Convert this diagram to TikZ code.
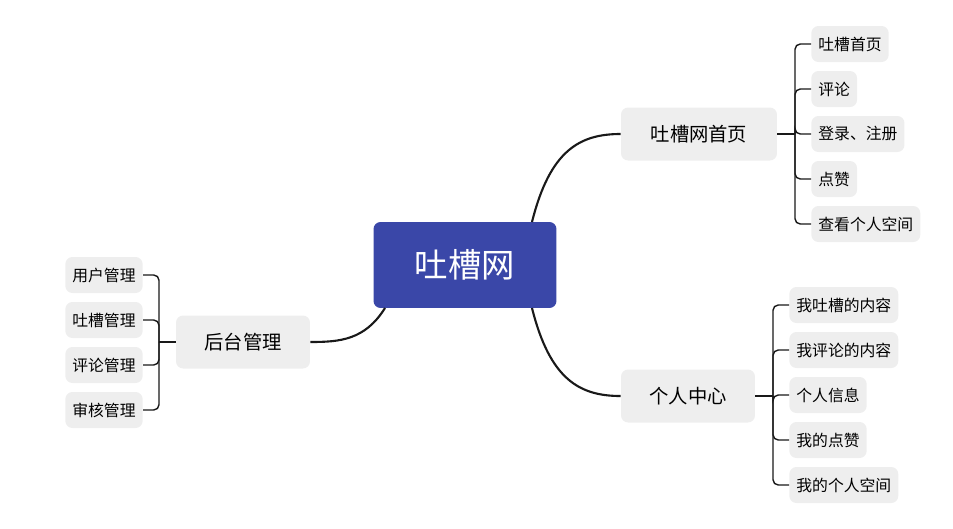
\documentclass[tikz,border=0pt]{standalone}
\usepackage{fontspec}
\setmainfont{Noto Sans CJK SC}
\usetikzlibrary{positioning}
\definecolor{rootblue}{HTML}{3A47A8}
\definecolor{boxgray}{HTML}{EEEEEE}
\tikzset{
    root/.style={
           rectangle,
           rounded corners=4pt,
           fill=rootblue,
           text=white,
           minimum width=3.66cm,
           minimum height=1.72cm,
           font=\fontsize{19}{22}\selectfont,
           },
    topic/.style={
           rectangle,
           rounded corners=4pt,
           fill=boxgray,
           minimum height=1.06cm,
           inner xsep=8pt,
           font=\fontsize{11}{13}\selectfont,
           },
    leaf/.style={
           rectangle,
           rounded corners=4pt,
           fill=boxgray,
           minimum height=0.72cm,
           inner xsep=4pt,
           font=\fontsize{9}{11}\selectfont,
           },
    link/.style={
           very thick,
           draw=black!90,
           },
    brace/.style={
           thick,
           draw=black!90,
           rounded corners=3pt,}
}
\begin{document}
\begin{tikzpicture}[x=0.02cm,y=-0.02cm]
\useasboundingbox (0,0) rectangle (953,528);
% Root
\node[root] (ROOT) at (465,265) {吐槽网};
% Topics
\node[topic, minimum width=3.12cm] (HOME) at (699,134) {吐槽网首页};
\node[topic, minimum width=2.68cm] (CENTER) at (688,396) {个人中心};
\node[topic, minimum width=2.68cm] (ADMIN) at (243,342) {后台管理};
% Links from root
\draw[link] (532,222) .. controls (550,150) and (580,134) .. (HOME.west);
\draw[link] (532,308) .. controls (550,380) and (580,396) .. (CENTER.west);
\draw[link] (385,308) .. controls (365,340) and (340,342) .. (ADMIN.east);
% Home leaves
\coordinate (HB) at (795,134);
\draw[brace] (HOME.east) -- (HB);
\foreach \t/\y [count=\i] in {吐槽首页/44, 评论/89, 登录、注册/134, 点赞/179, 查看个人空间/224}{
  \node[leaf, anchor=west] (H\i) at (811,\y) {\t};
  \draw[brace] (HB) -- (HB |- H\i) -- (H\i.west);
}
% Center leaves
\coordinate (CB) at (773,396);
\draw[brace] (CENTER.east) -- (CB);
\foreach \t/\y [count=\i] in {我吐槽的内容/305, 我评论的内容/350, 个人信息/395, 我的点赞/440, 我的个人空间/485}{
  \node[leaf, anchor=west] (C\i) at (789,\y) {\t};
  \draw[brace] (CB) -- (CB |- C\i) -- (C\i.west);
}
% Admin leaves
\coordinate (AB) at (159,342);
\draw[brace] (ADMIN.west) -- (AB);
\foreach \t/\y [count=\i] in {用户管理/275, 吐槽管理/320, 评论管理/365, 审核管理/410}{
  \node[leaf, anchor=east] (A\i) at (143,\y) {\t};
  \draw[brace] (AB) -- (AB |- A\i) -- (A\i.east);
}
\end{tikzpicture}
\end{document}
